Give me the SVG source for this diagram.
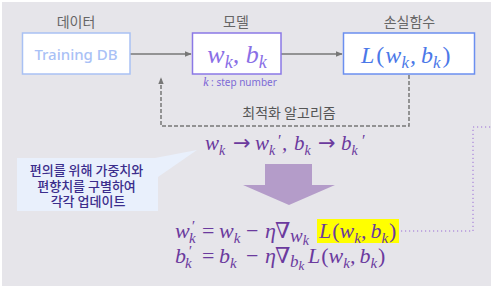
<svg xmlns="http://www.w3.org/2000/svg" width="491" height="290" viewBox="0 0 491 290">
<defs>
<style>
.lbl{font-family:"Noto Sans CJK KR","Noto Sans",sans-serif;font-size:14px;fill:#666;text-anchor:middle}
.m{font-family:"Liberation Serif",serif;font-style:italic}
.u{font-family:"Liberation Serif","DejaVu Serif",serif;font-style:normal}
.ar{font-family:"DejaVu Sans",sans-serif;font-style:normal}
.eq{fill:#6b3a9e}
.box{fill:#ffffff;stroke-width:1.5}
</style>
<marker id="ah" viewBox="0 0 10 10" refX="9" refY="5" markerWidth="7" markerHeight="7" markerUnits="userSpaceOnUse" orient="auto">
<path d="M0,1 L10,5 L0,9 Z" fill="#777"/>
</marker>
</defs>
<rect x="2" y="2" width="489" height="284" fill="#e6e5ea"/>

<g id="connectors">
<line x1="130" y1="54" x2="191" y2="54" stroke="#777" stroke-width="1.5" marker-end="url(#ah)"/>
<line x1="281" y1="54" x2="342" y2="54" stroke="#777" stroke-width="1.5" marker-end="url(#ah)"/>
<polyline points="409,75 409,126 161,126 161,78" fill="none" stroke="#777" stroke-width="1.5" stroke-dasharray="4,2" marker-end="url(#ah)"/>
<polyline points="401,231 473,231 473,127 491,127" fill="none" stroke="#9b6fd6" stroke-width="1" stroke-dasharray="1.2,2.8"/>
</g>

<g id="data">
<text class="lbl" x="76" y="27">데이터</text>
<rect class="box" x="22.5" y="33" width="107.5" height="41" stroke="#a9c1f4"/>
<text x="76" y="59.5" font-family="Noto Sans, sans-serif" font-size="15" font-weight="500" fill="#a9c1f6" text-anchor="middle">Training DB</text>
</g>

<g id="model">
<text class="lbl" x="236" y="27">모델</text>
<rect class="box" x="192.5" y="33" width="88.5" height="41" stroke="#8b78e6"/>
<text class="m" x="237" y="63" font-size="26" fill="#8a6fe6" text-anchor="middle">w<tspan font-size="18" dy="5">k</tspan><tspan dy="-5">, b</tspan><tspan font-size="18" dy="5">k</tspan></text>
<text x="240" y="86" font-family="Noto Sans, sans-serif" font-size="10" fill="#7d6bd6" text-anchor="middle"><tspan class="m" font-size="12" fill="#7b5fd6">k</tspan> : step number</text>
</g>

<g id="loss">
<text class="lbl" x="409.5" y="27">손실함수</text>
<rect class="box" x="343.5" y="33" width="131" height="41" stroke="#6b8ff0"/>
<text class="m" x="361" y="63" font-size="24" fill="#4b78e8">L<tspan class="u" dx="2">(</tspan><tspan dx="1">w</tspan><tspan font-size="17" dy="5">k</tspan><tspan dy="-5" dx="1">,</tspan><tspan dx="5">b</tspan><tspan font-size="17" dy="5">k</tspan><tspan class="u" dy="-5" dx="2">)</tspan></text>
</g>

<g id="optimizer">
<text x="289" y="118" font-family="Noto Sans CJK KR, sans-serif" font-size="14" fill="#555" text-anchor="middle">최적화 알고리즘</text>
<text class="m eq" x="205" y="150" font-size="21">w<tspan font-size="14" dy="5">k</tspan><tspan class="ar" x="233" dy="-5">→</tspan><tspan x="255">w</tspan><tspan font-size="14" dy="5">k</tspan><tspan font-size="16" x="277" dy="-9">′</tspan><tspan x="282" dy="4">,</tspan><tspan x="294">b</tspan><tspan font-size="14" dy="5">k</tspan><tspan class="ar" x="318" dy="-5">→</tspan><tspan x="341">b</tspan><tspan font-size="14" dy="5">k</tspan><tspan font-size="16" x="361" dy="-9">′</tspan></text>
</g>

<g id="callout">
<polygon points="17,158 155,158 197,150 158,177 158,211 17,211" fill="#e9f0fc"/>
<text font-family="Noto Sans CJK KR, sans-serif" font-size="13" font-weight="500" fill="#3b2d8c" text-anchor="middle">
<tspan x="88" y="175">편의를 위해 가중치와</tspan>
<tspan x="88" y="191">편향치를 구별하여</tspan>
<tspan x="88" y="206">각각 업데이트</tspan>
</text>
</g>

<g id="bigarrow">
<polygon points="265,164 312,164 312,185 335,185 289,205 243,185 265,185" fill="#b49cc9"/>
</g>

<g id="equations" class="eq">
<rect x="317" y="219" width="82" height="24" fill="#ffff00"/>
<text class="m" x="175" y="238" font-size="22">w<tspan font-size="15" x="191" dy="-7">′</tspan><tspan font-size="15" x="189" dy="12">k</tspan><tspan class="u" x="202" dy="-5">=</tspan><tspan x="219">w</tspan><tspan font-size="15" dy="5">k</tspan><tspan class="u" x="246" dy="-5">−</tspan><tspan x="265">η</tspan><tspan class="u" x="275">∇</tspan><tspan font-size="19" x="290" dy="4">w</tspan><tspan font-size="14" dy="3">k</tspan><tspan x="319" dy="-7">L</tspan><tspan class="u" dx="1">(</tspan>w<tspan font-size="15" dy="5">k</tspan><tspan dy="-5">,</tspan><tspan dx="4">b</tspan><tspan font-size="15" dy="5">k</tspan><tspan class="u" dy="-5" dx="1">)</tspan></text>

<text class="m" x="175" y="263" font-size="22">b<tspan font-size="15" x="188" dy="-7">′</tspan><tspan font-size="15" x="185" dy="12">k</tspan><tspan class="u" x="202" dy="-5">=</tspan><tspan x="219">b</tspan><tspan font-size="15" dy="5">k</tspan><tspan class="u" x="246" dy="-5">−</tspan><tspan x="265">η</tspan><tspan class="u" x="275">∇</tspan><tspan font-size="17" x="290" dy="4">b</tspan><tspan font-size="13" dy="3">k</tspan><tspan x="308" dy="-7">L</tspan><tspan class="u" dx="1">(</tspan>w<tspan font-size="15" dy="5">k</tspan><tspan dy="-5">,</tspan><tspan dx="4">b</tspan><tspan font-size="15" dy="5">k</tspan><tspan class="u" dy="-5" dx="1">)</tspan></text>
</g>
</svg>
